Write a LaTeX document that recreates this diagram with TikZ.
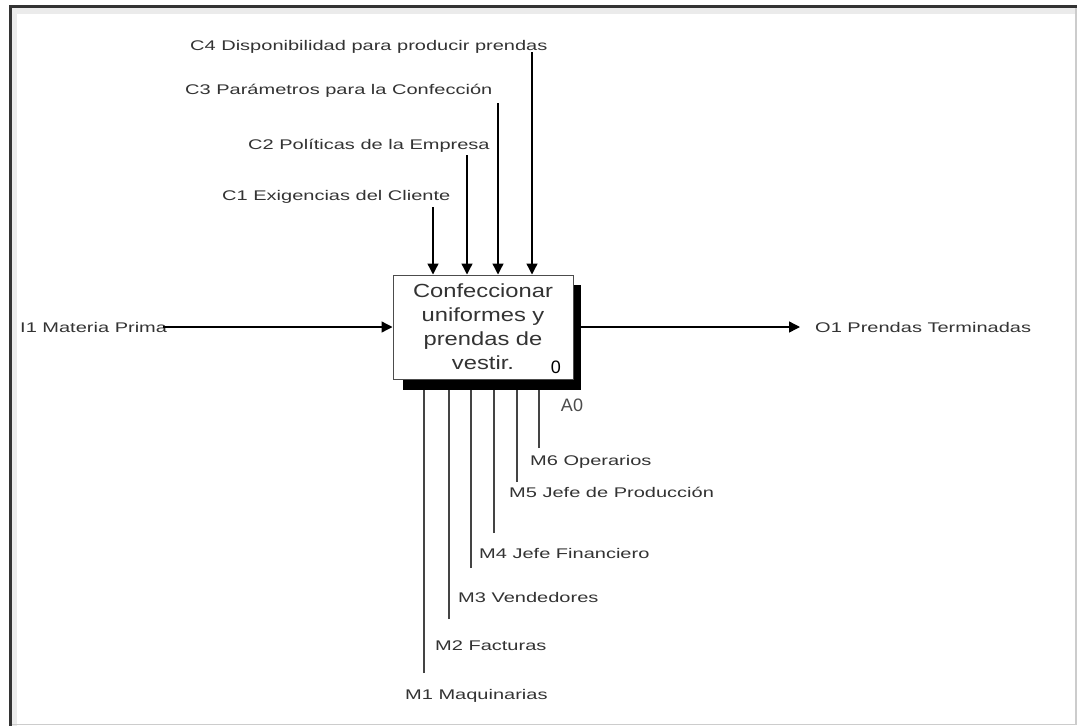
\documentclass[tikz,border=0pt]{standalone}
\usepackage{fontspec}
\usetikzlibrary{arrows.meta}
\setmainfont{Liberation Sans}
\newfontfamily\lblfont[FakeStretch=1.43]{Liberation Sans}
\newfontfamily\boxfont[FakeStretch=1.25]{Liberation Sans}
\definecolor{ink}{HTML}{333333}
\definecolor{wire}{HTML}{444444}
\begin{document}
\begin{tikzpicture}[x=1pt,y=-1pt,
  lbl/.style={font=\lblfont\fontsize{14}{16}\selectfont, text=ink, inner sep=0pt, anchor=west},
  flow/.style={draw=black, line width=1.4pt, -{Triangle[length=11pt,width=11pt]}},
  mech/.style={draw=wire, line width=1.5pt},
  actbox/.style={draw=black!70, line width=1pt, fill=white, minimum width=180pt, minimum height=104pt,
    inner sep=0pt, align=center, font=\boxfont\fontsize{19}{24}\selectfont, text=ink}]
\useasboundingbox (0,0) rectangle (1077,726);
\fill[white] (0,0) rectangle (1077,726);

% panel frame: dark top and left edge, light right and bottom edge
\draw[black!8, line width=6pt] (14,730) -- (14,11) -- (1077,11);
\draw[black!80, line width=3.5pt] (10.5,726) -- (10.5,6.5) -- (1077,6.5);
\draw[black!20, line width=1.2pt] (1076,8) -- (1076,724.5) -- (12,724.5);

% the activity box
\node[actbox] (box) at (483,327) {Confeccionar\\uniformes y\\prendas de\\vestir.};

% control labels and their entry points
\node[lbl] (c4) at (190,47) {C4 Disponibilidad para producir prendas};
\node[lbl] (c3) at (185,91) {C3 Parámetros para la Confección};
\node[lbl] (c2) at (248,146) {C2 Políticas de la Empresa};
\node[lbl] (c1) at (222,197) {C1 Exigencias del Cliente};
\coordinate (c4s) at (532,52);
\coordinate (c3s) at (498,103);
\coordinate (c2s) at (467,155);
\coordinate (c1s) at (433,207);

% input and output labels
\node[lbl] (i1) at (20,327) {I1 Materia Prima};
\coordinate (i1s) at (163,327);
\node[lbl] (o1) at (815,327) {O1 Prendas Terminadas};
\coordinate (o1e) at (800,327);

% mechanism labels and line ends
\node[lbl] (m6) at (530,462) {M6 Operarios};
\node[lbl] (m5) at (509,492) {M5 Jefe de Producción};
\node[lbl] (m4) at (479,553) {M4 Jefe Financiero};
\node[lbl] (m3) at (458,597) {M3 Vendedores};
\node[lbl] (m2) at (435,646) {M2 Facturas};
\node[lbl] (m1) at (405,696) {M1 Maquinarias};
\coordinate (m6e) at (539,448);
\coordinate (m5e) at (517,482);
\coordinate (m4e) at (494,533);
\coordinate (m3e) at (471,568);
\coordinate (m2e) at (449,619);
\coordinate (m1e) at (424,673);

% mechanism lines, running up under the box
\foreach \m in {m1e,m2e,m3e,m4e,m5e,m6e}
  \draw[mech] (\m) -- (\m |- box.south);

% controls
\foreach \c in {c1s,c2s,c3s,c4s}
  \draw[flow] (\c) -- (\c |- box.north);

% input and output
\draw[flow] (i1s) -- (box.west);
\draw[flow] (box.east) -- (o1e);

% box drop shadow, then the box on top of it
\fill[black] ([xshift=10pt,yshift=-10pt]box.north west) rectangle ([xshift=7pt,yshift=-10pt]box.south east);
\node[actbox] (boxtop) at (box.center) {Confeccionar\\uniformes y\\prendas de\\vestir.};

% box number and node reference
\node[font=\fontsize{18}{18}\selectfont, text=black, inner sep=0pt] (num) at (556,367) {0};
\node[font=\fontsize{18}{18}\selectfont, text=black!70, inner sep=0pt] (ref) at (572,405) {A0};
\end{tikzpicture}
\end{document}
